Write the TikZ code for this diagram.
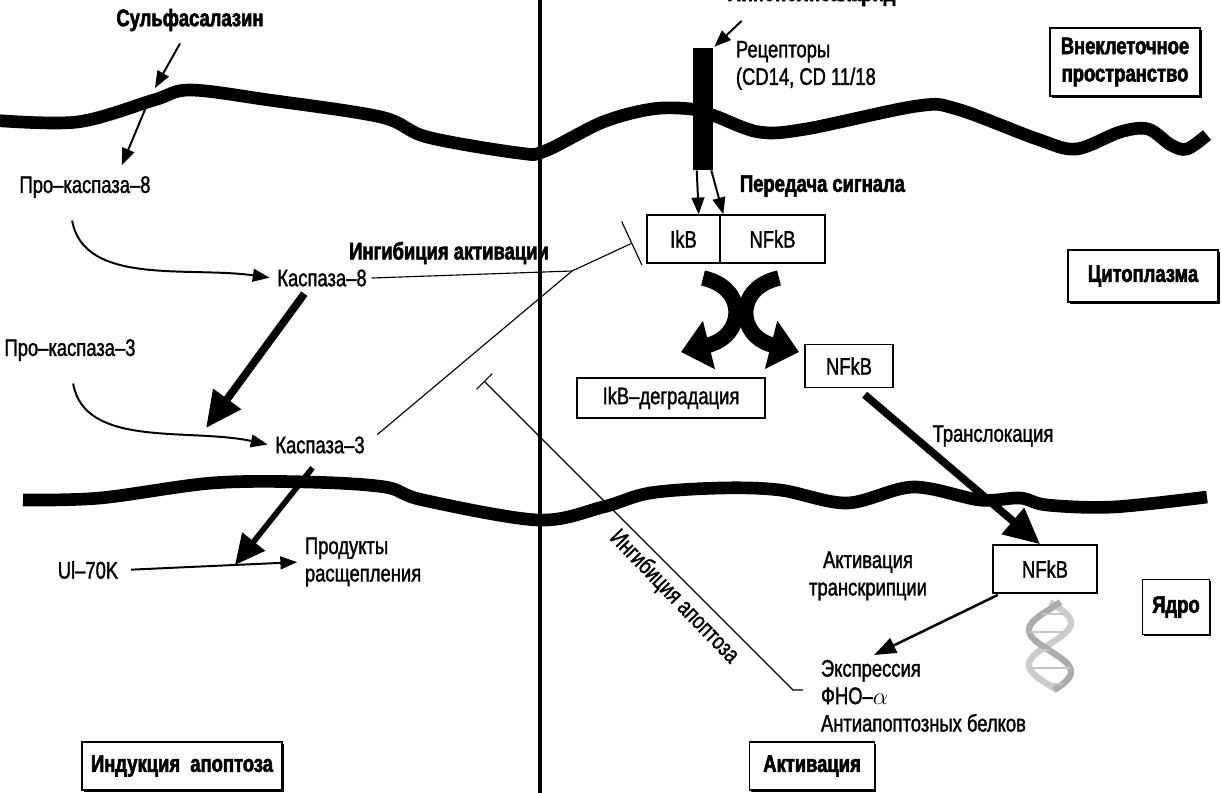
\documentclass[tikz,border=0pt]{standalone}
\usepackage{fontspec}
\setmainfont{Liberation Sans}[FakeStretch=0.77, UprightFeatures={FakeBold=1.4}, BoldFeatures={FakeBold=2.4}]
\usepackage{tikz}
\usetikzlibrary{positioning}
\usetikzlibrary{arrows.meta}
\usetikzlibrary{shadows}

\begin{document}
\begin{tikzpicture}[x=0.025cm, y=-0.025cm,
  font=\fontsize{17}{19.5}\selectfont,
  bold/.style={font=\fontsize{17}{19.5}\selectfont\bfseries},
  region/.style={draw, line width=1.3pt, fill=white, align=center, inner sep=4pt,
    font=\fontsize{17}{19.5}\selectfont\bfseries,
    drop shadow={shadow xshift=1.4pt, shadow yshift=-1.4pt, opacity=1, fill=black}},
  mol/.style={draw, line width=1pt, fill=white, minimum height=1.2cm},
  membrane/.style={line width=9pt},
  thinarr/.style={line width=1.4pt, -{Triangle[length=0.42cm, width=0.32cm]}},
  medarr/.style={line width=4pt, -{Triangle[length=0.75cm, width=0.7cm]}},
  fatarr/.style={line width=5.5pt, -{Triangle[length=0.9cm, width=0.82cm]}},
  blockarr/.style={line width=11pt, -{Triangle[length=0.72cm, width=1.2cm]}},
  inhib/.style={line width=0.8pt}]

  \fill[white] (0,0) rectangle (1221,792);
  \useasboundingbox (0,0) rectangle (1221,792);

  % membranes and divider
  \draw[membrane] plot[smooth, tension=0.55] coordinates {(-10,120) (77,122) (154,100) (190,90) (269,100) (381,117) (427,137) (519,153) (545,151) (603,122) (652,109) (691,109) (715,116) (759,132) (806,129) (917,106) (957,109) (1037,139) (1076,149) (1120,132) (1148,129) (1171,145) (1187,149) (1207,135)};
  \draw[membrane] plot[smooth, tension=0.55] coordinates {(23,500) (100,498) (212,483) (308,482) (385,487) (423,500) (538,520) (603,507) (650,493) (720,488) (780,490) (847,503) (913,487) (980,500) (1020,498) (1047,505) (1113,507) (1207,497)};
  \draw[line width=2.5pt] (540,-5) -- (540,800);

  % apoptosis side
  \node[bold] (sulfa) at (190,20) {Сульфасалазин};
  \coordinate (sulfahit) at (155,88);
  \coordinate (entry8) at (149,100);
  \node (pc8) at (85,187) {Про–каспаза–8};
  \node (casp8) at (322,278) {Каспаза–8};
  \node (pc3) at (70,350) {Про–каспаза–3};
  \node (casp3) at (320,445) {Каспаза–3};
  \node (ul70) at (88,570) {Ul–70K};
  \node[anchor=west, align=left] (prod) at (300,562) {Продукты\\расщепления};
  \node[bold] (inhact) at (449,253) {Ингибиция активации};
  \coordinate (c3in) at (206,428);
  \coordinate (cleave) at (235,565);
  \coordinate (jn) at (572,271);

  \draw[thinarr, shorten <=6pt] (sulfa.250) -- (sulfahit);
  \draw[thinarr] (entry8) -- ([xshift=0.92cm, yshift=0.15cm]pc8.north);
  \draw[thinarr, shorten <=0.45cm, shorten >=2pt] ([xshift=-0.4cm]pc8.south) to[out=-80, in=172] (casp8.west);
  \draw[thinarr, shorten <=0.45cm, shorten >=2pt] ([xshift=0cm]pc3.south) to[out=-80, in=168] (casp3.west);
  \draw[fatarr, shorten <=2pt] ([xshift=-0.4cm]casp8.south) -- (c3in);
  \draw[medarr, shorten <=0.3cm] (casp3.south) -- (cleave);
  \draw[thinarr, shorten <=0.2cm, shorten >=2pt] (ul70.east) -- (prod.west);

  % activation side
  \node[bold, anchor=base] (lps) at (812,1) {Липополисахарид};
  \node[fill=black, minimum width=0.5cm, minimum height=3.05cm, inner sep=0pt] (rec) at (703,109) {};
  \node[anchor=north west, align=left] (reclbl) at (731,36) {Рецепторы\\(CD14, CD 11/18};
  \node[bold, anchor=west] (signal) at (735,186) {Передача сигнала};
  \node[mol, minimum width=1.825cm] (ikb) at (683.5,239) {IkB};
  \node[mol, minimum width=2.625cm, right=-1pt of ikb] (nfkb) {NFkB};
  \node[mol, minimum width=4.7cm, minimum height=1cm] (deg) at (671,398) {IkB–деградация};
  \node[mol, minimum width=2.2cm, minimum height=1.075cm] (nfc) at (849,366) {NFkB};
  \node (transl) at (993,436) {Транслокация};
  \node[mol, minimum width=2.6cm] (nfn) at (1045,569) {NFkB};
  \node[align=center] (tract) at (868,576) {Активация\\транскрипции};
  \node[anchor=north west, align=left] (expr) at (816,655) {Экспрессия\\ФНО–$\alpha$\\Антиапоптозных белков};

  \draw[thinarr, shorten >=1pt] ([xshift=0.45cm, yshift=-0.25cm]lps.south west) -- (rec.north east);
  \draw[thinarr] ([xshift=0.1cm]rec.south west) -- ([xshift=-0.55cm]ikb.north east);
  \draw[thinarr] ([xshift=-0.05cm]rec.south east) -- ([xshift=0.1cm]nfkb.north west);

  \coordinate (lt) at (703,278);
  \coordinate (lh) at (681,352);
  \coordinate (rt) at (779,278);
  \coordinate (rh) at (799,352);
  \draw[blockarr] (lt) .. controls (748,288) and (745,336) .. (lh);
  \draw[blockarr] (rt) .. controls (734,288) and (737,336) .. (rh);

  \draw[fatarr, shorten <=0.25cm] ([xshift=0.2cm]nfc.south) -- ([xshift=-0.12cm]nfn.north);
  \draw[line width=1.8pt, -{Triangle[length=0.55cm, width=0.4cm]}, shorten <=2pt] ([xshift=0.2cm]nfn.south west) -- ([xshift=1.45cm]expr.north west);

  % inhibition lines
  \draw[inhib, -{Bar[width=1.2cm]}] (casp8.east) -- (jn) -- ([xshift=-0.35cm, yshift=-0.1cm]ikb.west);
  \draw[inhib, shorten <=0.25cm] ([yshift=0.1cm]casp3.east) -- (jn);
  \coordinate (tickR) at (803,690);
  \coordinate (tickL) at (793,690);
  \coordinate (apoT) at (484,381);
  \draw[inhib, -{Bar[width=0.55cm]}] (tickR) -- (tickL) -- (apoT);
  \node[rotate=-46] (apolbl) at (674,597) {Ингибиция апоптоза};

  % DNA
  \foreach \ph/\col in {0/gray!40, 150/gray!65}
    \draw[\col, line width=4.5pt, domain=602:690, samples=50, variable=\t] plot ({1050+21*sin((\t-602)*4.3+\ph)}, \t);
  \foreach \yy in {614,632,650,668,684}
    \draw[gray!45, line width=1.8pt] ({1050+21*sin((\yy-602)*4.3)},\yy) -- ({1050+21*sin((\yy-602)*4.3+150)},\yy);

  % compartment labels
  \node[region, minimum width=3.75cm, minimum height=1.7cm] (extra) at (1125,62) {Внеклеточное\\пространство};
  \node[region, minimum width=3.75cm, minimum height=1.3cm] (cyto) at (1143,276) {Цитоплазма};
  \node[region, minimum width=1.675cm, minimum height=1.375cm] (nucl) at (1176,607) {Ядро};
  \node[region, minimum width=5cm, minimum height=1.2cm] (induct) at (182,766) {Индукция~~апоптоза};
  \node[region, minimum width=3.125cm, minimum height=1.2cm] (activ) at (812,766) {Активация};
\end{tikzpicture}
\end{document}
